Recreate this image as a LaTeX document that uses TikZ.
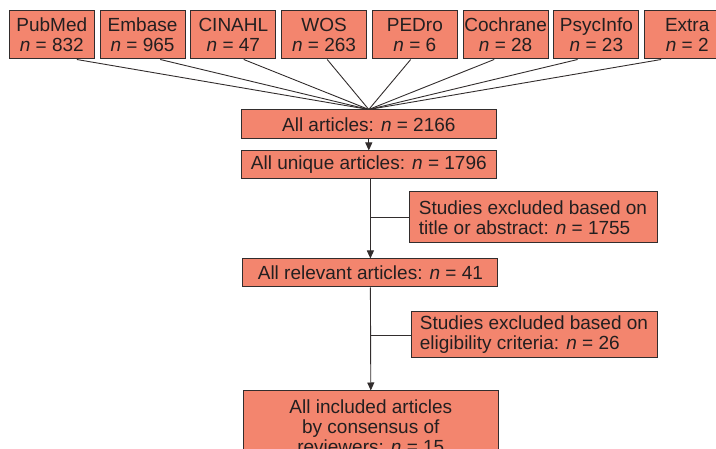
\documentclass[tikz,border=0pt]{standalone}
\usepackage{fontspec}
\setmainfont{Liberation Sans}
\usetikzlibrary{arrows.meta,calc}
\definecolor{boxfill}{RGB}{243,133,110}
\definecolor{boxline}{RGB}{50,45,45}
\definecolor{txt}{RGB}{35,31,32}
\begin{document}
\begin{tikzpicture}[x=1pt,y=-1pt,
  font=\fontsize{19}{20}\selectfont,
  box/.style={draw=boxline,fill=boxfill,line width=1pt,text=txt,inner sep=0pt,align=center},
  srcbox/.style={box,minimum width=85,minimum height=48},
  mainbox/.style={box,minimum width=255,minimum height=28},
  exclbox/.style={box,align=left},
  conn/.style={draw=boxline,line width=0.9pt},
  arr/.style={conn,-{Triangle[length=8pt,width=7pt]}}]
\useasboundingbox (0,0) rectangle (716,449);
\foreach \nm/\lab/\num [count=\i from 0] in {pubmed/PubMed/832,embase/Embase/965,cinahl/CINAHL/47,wos/WOS/263,pedro/PEDro/6,cochrane/Cochrane/28,psyc/PsycInfo/23,extra/Extra/2}{
  \node[srcbox] (\nm) at ({51.8+90.77*\i},35) {\lab\\\textit{n} = \num};
}
\node[mainbox,minimum width=254.5,minimum height=29] (all) at (368.8,124.5) {All articles: \textit{n} = 2166};
\node[mainbox,minimum width=254.5] (unique) at (368.8,165) {All unique articles: \textit{n} = 1796};
\node[exclbox,minimum width=248,minimum height=51] (excl1) at (533,217.5) {Studies excluded based on\\title or abstract: \textit{n} = 1755};
\node[mainbox] (relevant) at (370.4,273) {All relevant articles: \textit{n} = 41};
\node[exclbox,minimum width=246,minimum height=46] (excl2) at (534,335) {Studies excluded based on\\eligibility criteria: \textit{n} = 26};
\node[box,minimum width=255,minimum height=71] (final) at (370.8,426.5) {All included articles\\by consensus of\\reviewers: \textit{n} = 15};
\foreach \nm [count=\i from 0] in {pubmed,embase,cinahl,wos,pedro,cochrane,psyc,extra}{
  \draw[conn] ($(\nm.south)+({25-7.3*\i},0)$) -- (all.north);
}
\draw[arr] (all.south) -- (unique.north);
\draw[arr] (unique.south -| relevant.north) -- (relevant.north);
\draw[conn] (excl1.west) -- (excl1.west -| relevant.north);
\draw[arr] (relevant.south) -- (final.north);
\draw[conn] (excl2.west) -- (excl2.west -| relevant.north);
\end{tikzpicture}
\end{document}
